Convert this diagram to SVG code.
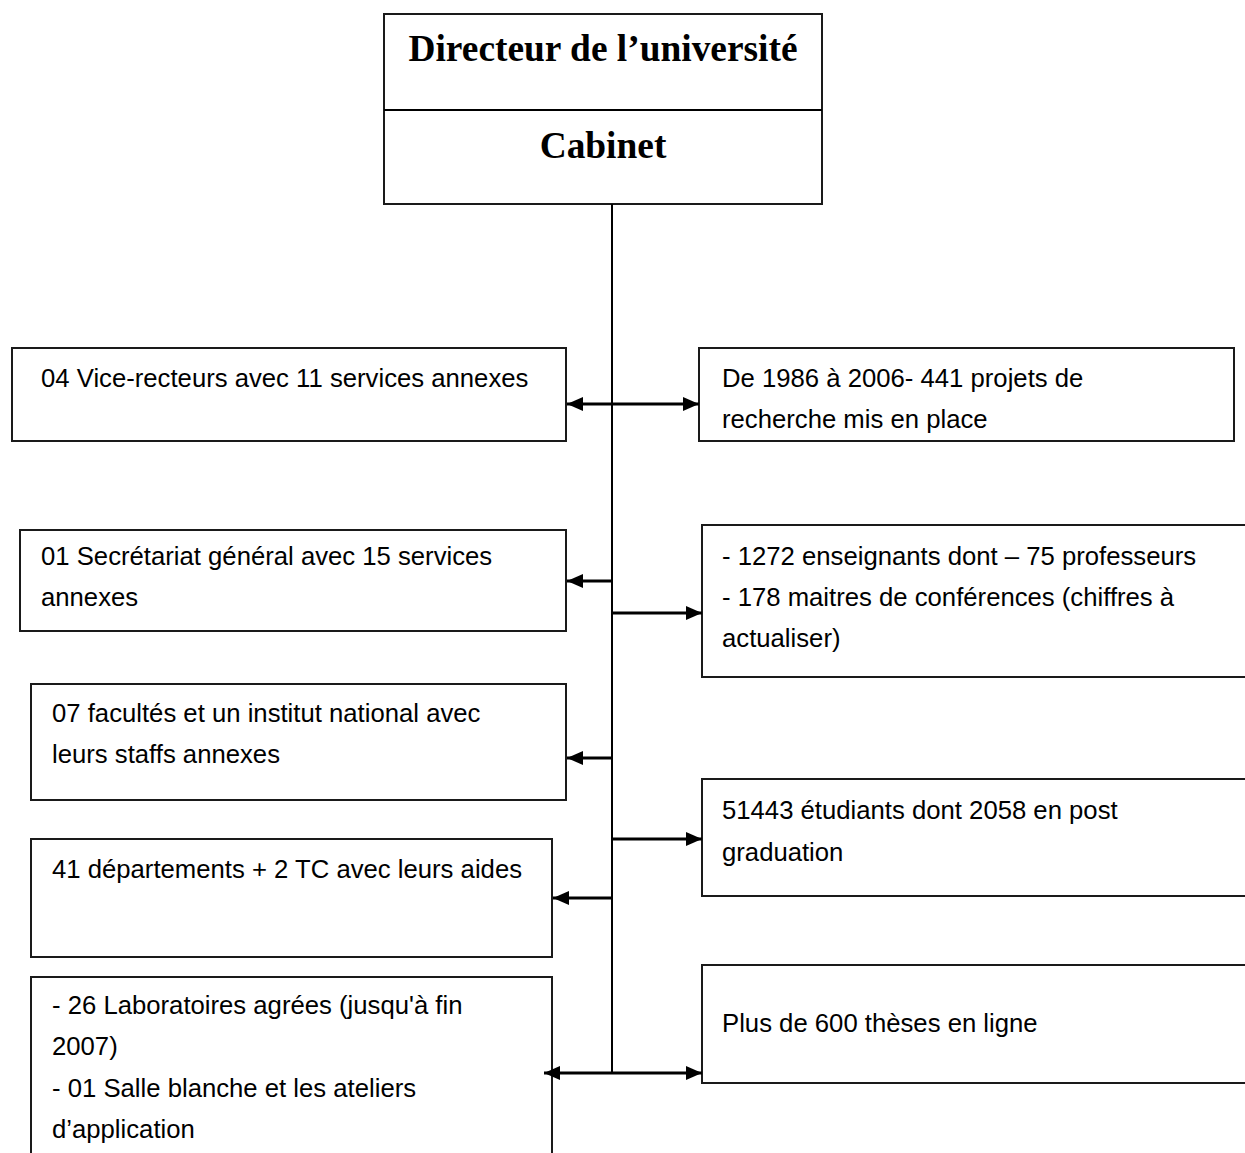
<svg xmlns="http://www.w3.org/2000/svg" width="1245" height="1153" viewBox="0 0 1245 1153">
<style>
.box{fill:#fff;stroke:#1a1a1a;stroke-width:2}
.t{font-family:"Liberation Sans",Arial,sans-serif;font-size:25.7px;fill:#000}
.h{font-family:"Liberation Serif",serif;font-weight:bold;font-size:37.4px;fill:#000;text-anchor:middle}
.ln{stroke:#000;stroke-width:2;fill:none}
.ar{stroke:#000;stroke-width:3;fill:none}
</style>
<defs>
<marker id="ah" viewBox="0 0 16 14" refX="16" refY="7" markerWidth="16" markerHeight="14" markerUnits="userSpaceOnUse" orient="auto-start-reverse">
<path d="M0,0 L16,7 L0,14 z" fill="#000"/>
</marker>
</defs>
<rect width="1245" height="1153" fill="#fff"/>
<g id="director">
<rect class="box" x="384" y="14" width="438" height="190"/>
<line class="ln" x1="384" y1="110" x2="822" y2="110"/>
<text class="h" x="603" y="61">Directeur de l’université</text>
<text class="h" x="603" y="158">Cabinet</text>
</g>
<g id="n-vice">
<rect class="box" x="12" y="348" width="554" height="93"/>
<text class="t" x="41" y="387">04 Vice-recteurs avec 11 services annexes</text>
</g>
<g id="n-secr">
<rect class="box" x="20" y="530" width="546" height="101"/>
<text class="t" x="41" y="565">01 Secrétariat général avec 15 services</text>
<text class="t" x="41" y="606">annexes</text>
</g>
<g id="n-fac">
<rect class="box" x="31" y="684" width="535" height="116"/>
<text class="t" x="52" y="722">07 facultés et un institut national avec</text>
<text class="t" x="52" y="763">leurs staffs annexes</text>
</g>
<g id="n-dep">
<rect class="box" x="31" y="839" width="521" height="118"/>
<text class="t" x="52" y="878">41 départements + 2 TC avec leurs aides</text>
</g>
<g id="n-lab">
<rect class="box" x="31" y="977" width="521" height="190"/>
<text class="t" x="52" y="1014">- 26 Laboratoires agrées (jusqu'à fin</text>
<text class="t" x="52" y="1055">2007)</text>
<text class="t" x="52" y="1097">- 01 Salle blanche et les ateliers</text>
<text class="t" x="52" y="1138">d’application</text>
</g>
<g id="n-proj">
<rect class="box" x="699" y="348" width="535" height="93"/>
<text class="t" x="722" y="387">De 1986 à 2006- 441 projets de</text>
<text class="t" x="722" y="428">recherche mis en place</text>
</g>
<g id="n-ens">
<rect class="box" x="702" y="525" width="555" height="152"/>
<text class="t" x="722" y="565">- 1272 enseignants dont – 75 professeurs</text>
<text class="t" x="722" y="606">- 178 maitres de conférences (chiffres à</text>
<text class="t" x="722" y="647">actualiser)</text>
</g>
<g id="n-etu">
<rect class="box" x="702" y="779" width="555" height="117"/>
<text class="t" x="722" y="819">51443 étudiants dont 2058 en post</text>
<text class="t" x="722" y="861">graduation</text>
</g>
<g id="n-these">
<rect class="box" x="702" y="965" width="555" height="118"/>
<text class="t" x="722" y="1032">Plus de 600 thèses en ligne</text>
</g>
<g id="connectors">
<line class="ln" x1="612" y1="204" x2="612" y2="1074"/>
<line class="ar" x1="612" y1="404" x2="567" y2="404" marker-end="url(#ah)"/>
<line class="ar" x1="612" y1="404" x2="699" y2="404" marker-end="url(#ah)"/>
<line class="ar" x1="612" y1="581" x2="567" y2="581" marker-end="url(#ah)"/>
<line class="ar" x1="612" y1="613" x2="702" y2="613" marker-end="url(#ah)"/>
<line class="ar" x1="612" y1="758" x2="567" y2="758" marker-end="url(#ah)"/>
<line class="ar" x1="612" y1="839" x2="702" y2="839" marker-end="url(#ah)"/>
<line class="ar" x1="612" y1="898" x2="553" y2="898" marker-end="url(#ah)"/>
<line class="ar" x1="612" y1="1073" x2="544" y2="1073" marker-end="url(#ah)"/>
<line class="ar" x1="612" y1="1073" x2="702" y2="1073" marker-end="url(#ah)"/>
</g>
</svg>
